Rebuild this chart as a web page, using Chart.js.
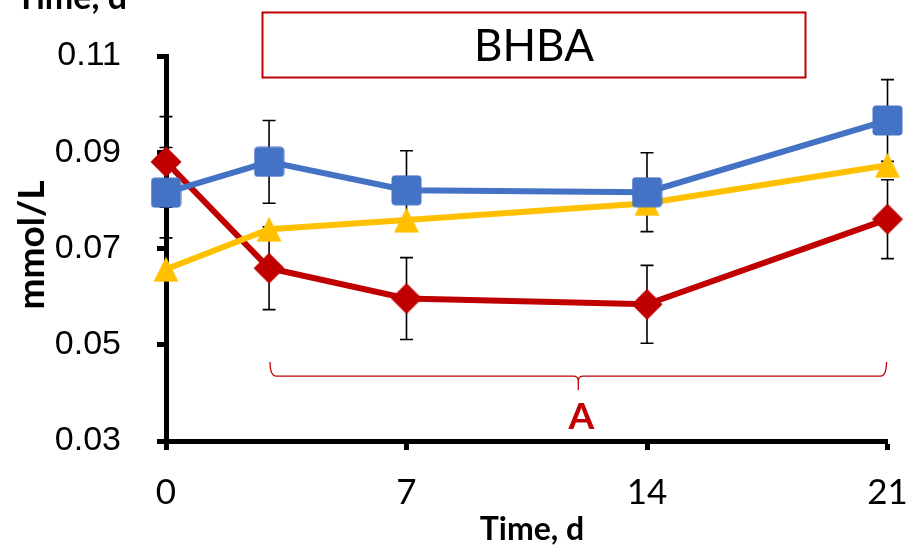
<!DOCTYPE html>
<html><head><meta charset="utf-8">
<script src="https://cdn.jsdelivr.net/npm/chart.js@4.4.0/dist/chart.umd.min.js"></script>
<style>html,body{margin:0;padding:0;background:#fff;} canvas{display:block;}</style>
</head><body>
<canvas id="c" width="921" height="552"></canvas>
<script>
// ---- data ----
const days = [0, 3, 7, 14, 21];
const xTickValues = [0, 7, 14, 21];
const yTickValues = [0.03, 0.05, 0.07, 0.09, 0.11];
const blueValues = [0.0816, 0.0880, 0.0821, 0.0817, 0.0966];
const blueErrors = [0.0094, 0.0086, 0.0082, 0.0082, 0.0085];
const yellowValues = [0.0657, 0.0740, 0.0759, 0.0794, 0.0873];
const redValues = [0.0880, 0.0659, 0.0596, 0.0584, 0.0761];
const redErrors = [0.0094, 0.0086, 0.0085, 0.0081, 0.0082];
const panelTitle = 'BHBA';
const xTitle = 'Time, d';
const yTitle = 'mmol/L';
const bracketFrom = 3, bracketTo = 21, bracketLevel = 0.0435, bracketLabel = 'A', bracketLabelLevel = 0.035;

const BLUE = '#4472C4', RED = '#C00000', YELLOW = '#FFC000';

function markerCanvas(w, h, draw) {
  const c = document.createElement('canvas');
  c.width = w; c.height = h;
  const g = c.getContext('2d');
  draw(g, w, h);
  return c;
}
const squareImg = markerCanvas(31, 31, (g, w, h) => {
  g.fillStyle = BLUE;
  g.beginPath();
  if (g.roundRect) g.roundRect(0.5, 0.5, w - 1, h - 1, 4); else g.rect(0.5, 0.5, w - 1, h - 1);
  g.fill();
});
const diamondImg = markerCanvas(32, 32, (g, w, h) => {
  g.fillStyle = RED;
  g.beginPath();
  g.moveTo(w / 2, 0.5); g.lineTo(w - 0.5, h / 2); g.lineTo(w / 2, h - 0.5); g.lineTo(0.5, h / 2);
  g.closePath(); g.fill();
});
const triangleImg = markerCanvas(26, 26, (g, w, h) => {
  g.fillStyle = YELLOW;
  g.beginPath();
  g.moveTo(w / 2, 0.5); g.lineTo(w - 0.5, h - 0.5); g.lineTo(0.5, h - 0.5);
  g.closePath(); g.fill();
});

function pts(vals) { return days.map((d, i) => ({ x: d, y: vals[i] })); }

const errorBars = [
  { values: blueValues, errors: blueErrors },
  { values: redValues, errors: redErrors }
];

const errorPlugin = {
  id: 'errs',
  beforeDatasetsDraw(chart) {
    const { ctx, scales: { x, y } } = chart;
    ctx.save();
    ctx.strokeStyle = '#000';
    ctx.lineWidth = 1.6;
    errorBars.forEach(s => {
      days.forEach((d, i) => {
        const px = x.getPixelForValue(d);
        const top = y.getPixelForValue(s.values[i] + s.errors[i]);
        const bot = y.getPixelForValue(s.values[i] - s.errors[i]);
        ctx.beginPath();
        ctx.moveTo(px, top); ctx.lineTo(px, bot);
        ctx.moveTo(px - 6.5, top); ctx.lineTo(px + 6.5, top);
        ctx.moveTo(px - 6.5, bot); ctx.lineTo(px + 6.5, bot);
        ctx.stroke();
      });
    });
    ctx.restore();
  }
};

const annotPlugin = {
  id: 'annot',
  afterDatasetsDraw(chart) {
    const { ctx, scales: { x, y } } = chart;
    ctx.save();
    // bracket
    const x1 = x.getPixelForValue(bracketFrom), x2 = x.getPixelForValue(bracketTo);
    const yb = y.getPixelForValue(bracketLevel);
    const xm = (x1 + x2) / 2;
    ctx.strokeStyle = RED; ctx.lineWidth = 1.3;
    ctx.beginPath();
    ctx.moveTo(x1 + 1, yb - 14);
    ctx.quadraticCurveTo(x1 + 1, yb, x1 + 7, yb);
    ctx.lineTo(xm - 5, yb);
    ctx.quadraticCurveTo(xm, yb, xm, yb + 5);
    ctx.lineTo(xm, yb + 14);
    ctx.moveTo(xm, yb + 5);
    ctx.quadraticCurveTo(xm, yb, xm + 5, yb);
    ctx.lineTo(x2 - 7, yb);
    ctx.quadraticCurveTo(x2 - 1, yb, x2 - 1, yb - 14);
    ctx.stroke();
    // label A
    ctx.fillStyle = RED;
    ctx.font = 'bold 37px Lato';
    ctx.textAlign = 'center'; ctx.textBaseline = 'middle';
    ctx.fillText(bracketLabel, xm + 3, y.getPixelForValue(bracketLabelLevel));
    // title box
    ctx.strokeStyle = RED; ctx.lineWidth = 2;
    ctx.strokeRect(262.5, 12.5, 543, 65);
    ctx.fillStyle = '#000';
    ctx.font = '44px Lato';
    ctx.fillText(panelTitle, 534, 47);
    // axis titles
    ctx.font = 'bold 32px Lato';
    ctx.fillText(xTitle, 532, 530);
    ctx.textAlign = 'right'; ctx.textBaseline = 'alphabetic';
    ctx.font = 'bold 34px Lato';
    ctx.fillText(xTitle, 127, 9);
    ctx.save();
    ctx.translate(32, 245);
    ctx.rotate(-Math.PI / 2);
    ctx.textAlign = 'center'; ctx.textBaseline = 'middle';
    ctx.font = 'bold 37px Lato';
    ctx.fillText(yTitle, 0, 0);
    ctx.restore();
    ctx.restore();
  }
};

new Chart(document.getElementById('c'), {
  type: 'line',
  data: {
    datasets: [
      { data: pts(blueValues), borderColor: BLUE, pointStyle: squareImg, borderWidth: 6, clip: false },
      { data: pts(yellowValues), borderColor: YELLOW, pointStyle: triangleImg, borderWidth: 6, clip: false },
      { data: pts(redValues), borderColor: RED, pointStyle: diamondImg, borderWidth: 6, clip: false }
    ]
  },
  options: {
    responsive: false,
    animation: false,
    events: [],
    layout: { padding: { left: 0, right: 33.5, top: 56, bottom: 0 } },
    plugins: { legend: { display: false }, tooltip: { enabled: false } },
    elements: { line: { tension: 0 } },
    scales: {
      x: {
        type: 'linear', min: 0, max: 21,
        afterBuildTicks: s => { s.ticks = xTickValues.map(v => ({ value: v })); },
        afterFit: s => { s.height = 111; s.paddingLeft = 0; s.paddingRight = 0; },
        grid: { drawOnChartArea: false, drawTicks: true, tickLength: 9, tickWidth: 5, tickColor: '#000' },
        border: { display: true, color: '#000', width: 5 },
        ticks: { color: '#000', padding: 22, font: { family: 'Lato', size: 35 }, maxRotation: 0 }
      },
      y: {
        type: 'linear', min: 0.03, max: 0.11,
        afterBuildTicks: s => { s.ticks = yTickValues.map(v => ({ value: v })); },
        afterFit: s => { s.width = 166; s.paddingTop = 0; s.paddingBottom = 0; },
        grid: { drawOnChartArea: false, drawTicks: true, tickLength: 9, tickWidth: 5, tickColor: '#000' },
        border: { display: true, color: '#000', width: 5 },
        ticks: { color: '#000', padding: 36, font: { family: 'Liberation Sans', size: 34 },
          callback: v => v.toFixed(2) }
      }
    }
  },
  plugins: [errorPlugin, annotPlugin]
});
</script>
</body></html>
